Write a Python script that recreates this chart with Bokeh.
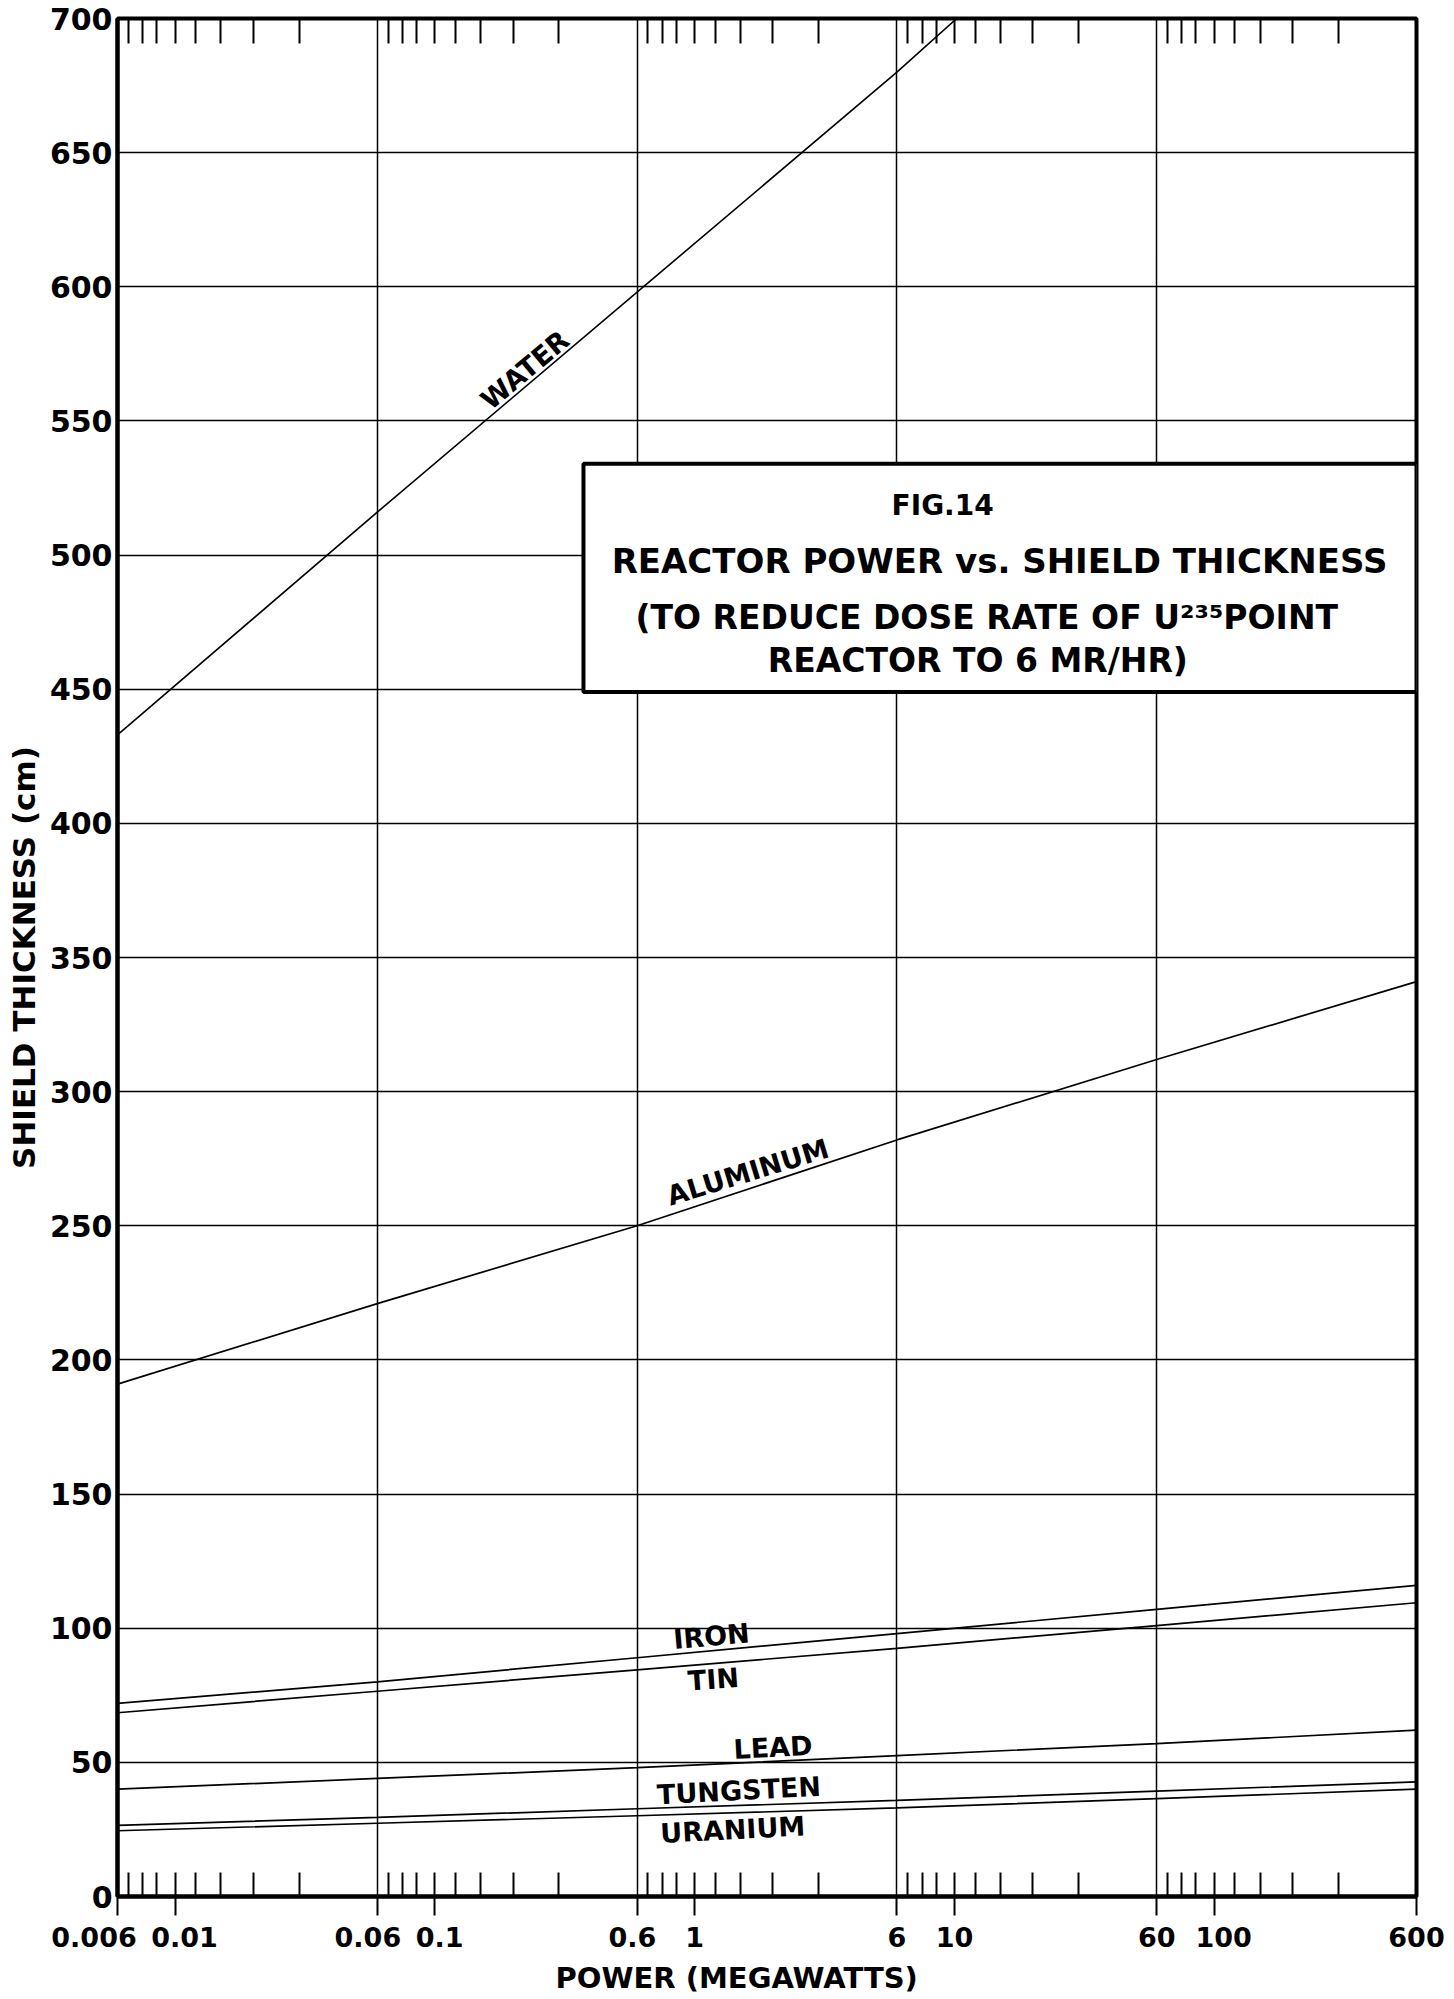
from bokeh.plotting import figure
from bokeh.models import FixedTicker, LogAxis, Range1d, BoxAnnotation, Label
from bokeh.embed import file_html
from bokeh.resources import INLINE
import math

# ---------------- data ----------------
power = [0.006, 0.06, 0.6, 6, 60, 600]          # MW
water_power = [0.006, 0.06, 0.6, 6, 10.2]
water = [433, 516, 598, 680, 700]
aluminum = [191, 221, 250, 282, 312, 341]
iron = [72, 80, 89, 98, 107, 116]
tin = [68.5, 76.5, 84.5, 92.5, 101, 109.5]
lead = [40, 44, 48, 52.5, 57, 62]
tungsten = [26.5, 29.5, 32.7, 35.8, 39.3, 42.7]
uranium = [24.5, 27.3, 30.1, 33, 36.5, 40]

x_tick_values = [0.006, 0.01, 0.06, 0.1, 0.6, 1, 6, 10, 60, 100, 600]
x_tick_labels = ["0.006", "0.01", "0.06", "0.1", "0.6", "1", "6", "10", "60", "100", "600"]
x_minor_ticks = [0.0066, 0.0075, 0.0085, 0.01, 0.012, 0.015, 0.02, 0.03,
                 0.066, 0.075, 0.085, 0.1, 0.12, 0.15, 0.2, 0.3,
                 0.66, 0.75, 0.85, 1, 1.2, 1.5, 2, 3,
                 6.6, 7.5, 8.5, 10, 12, 15, 20, 30,
                 66, 75, 85, 100, 120, 150, 200, 300]
x_grid_values = [0.006, 0.06, 0.6, 6, 60, 600]
y_tick_values = [0, 50, 100, 150, 200, 250, 300, 350, 400, 450, 500, 550, 600, 650, 700]

FONT = "DejaVu Sans"
NB = "\u00a0"
# hand-lettered labels sit a little off-centre: pad with no-break spaces
label_pad = {"0.006": (0, 5), "0.01": (2, 0), "0.06": (0, 2), "0.1": (1, 0),
             "0.6": (0, 1), "100": (2, 0)}

p = figure(width=1450, height=1999, x_axis_type="log",
           x_range=Range1d(0.006, 600), y_range=Range1d(0, 700),
           output_backend="svg", toolbar_location=None,
           min_border_left=117, min_border_right=34,
           min_border_top=18, min_border_bottom=103)
p.background_fill_color = "white"
p.border_fill_color = "white"
p.outline_line_color = "black"
p.outline_line_width = 4

# bottom x axis
xa = p.xaxis[0]
xa.ticker = FixedTicker(ticks=x_tick_values, minor_ticks=x_minor_ticks)
overrides = {}
for v, l in zip(x_tick_values, x_tick_labels):
    pre, post = label_pad.get(l, (0, 0))
    overrides[v] = NB * pre + l + NB * post
xa.major_label_overrides = overrides
xa.major_tick_out = 19
xa.major_tick_in = 0
xa.minor_tick_in = 24
xa.minor_tick_out = 0
xa.major_tick_line_width = 2
xa.minor_tick_line_width = 2
xa.major_tick_line_color = "black"
xa.minor_tick_line_color = "black"
xa.axis_line_width = 4
xa.axis_line_color = "black"
xa.major_label_standoff = 6
xa.major_label_text_font = FONT
xa.major_label_text_font_style = "bold"
xa.major_label_text_font_size = "27px"
xa.major_label_text_color = "black"
xa.axis_label = "POWER (MEGAWATTS)" + NB * 6
xa.axis_label_text_font = FONT
xa.axis_label_text_font_style = "bold"
xa.axis_label_text_font_size = "29px"
xa.axis_label_text_color = "black"
xa.axis_label_standoff = 5

# top axis with inward ticks only
top = LogAxis(ticker=FixedTicker(ticks=x_minor_ticks, minor_ticks=[]))
top.major_tick_in = 25
top.major_tick_out = 0
top.major_tick_line_width = 2
top.major_tick_line_color = "black"
top.minor_tick_line_color = None
top.axis_line_color = None
top.major_label_text_font_size = "1px"
top.major_label_text_alpha = 0
top.major_label_standoff = 0
p.add_layout(top, "above")

# y axis
ya = p.yaxis[0]
ya.ticker = FixedTicker(ticks=y_tick_values)
ya.major_tick_out = 0
ya.major_tick_in = 0
ya.minor_tick_line_color = None
ya.axis_line_width = 4
ya.axis_line_color = "black"
ya.major_label_standoff = 5
ya.major_label_text_font = FONT
ya.major_label_text_font_style = "bold"
ya.major_label_text_font_size = "30px"
ya.major_label_text_color = "black"
ya.axis_label = "SHIELD THICKNESS (cm)"
ya.axis_label_text_font = FONT
ya.axis_label_text_font_style = "bold"
ya.axis_label_text_font_size = "31px"
ya.axis_label_text_color = "black"
ya.axis_label_standoff = 5

# grids
p.xgrid.ticker = FixedTicker(ticks=x_grid_values)
p.xgrid.grid_line_color = "black"
p.xgrid.grid_line_width = 1.5
p.ygrid.ticker = FixedTicker(ticks=y_tick_values)
p.ygrid.grid_line_color = "black"
p.ygrid.grid_line_width = 1.5

# curves
p.line(water_power, water, line_color="black", line_width=1.6)
for series in (aluminum, iron, tin, lead, tungsten, uranium):
    p.line(power, series, line_color="black", line_width=1.7)

def lab(x, y, text, deg=0, size="27px"):
    p.add_layout(Label(x=x, y=y, text=text, angle=math.radians(deg),
                       text_align="center", text_baseline="middle",
                       text_font=FONT, text_font_style="bold",
                       text_font_size=size, text_color="black"))

lab(0.222, 569, "WATER", 40)
lab(1.6, 270, "ALUMINUM", 17)
lab(1.16, 97, "IRON", 5)
lab(1.18, 81, "TIN", 4)
lab(2.0, 55.6, "LEAD", 3)
lab(1.48, 39.5, "TUNGSTEN", 3)
lab(1.40, 24.9, "URANIUM", 3)

# title box
p.add_layout(BoxAnnotation(left=0.373, right=600, top=534, bottom=449,
                           fill_color="white", fill_alpha=1.0,
                           line_color="black", line_alpha=1.0, line_width=4))
lab(9.0, 518.6, "FIG.14", 0, "28px")
lab(14.9, 497.7, "REACTOR POWER vs. SHIELD THICKNESS", 0, "34px")
lab(13.3, 476.8, "(TO REDUCE DOSE RATE OF U\u00b2\u00b3\u2075POINT", 0, "33px")
lab(12.3, 460.7, "REACTOR TO 6 MR/HR)", 0, "33px")

open("out.html", "w").write(file_html(p, INLINE))
